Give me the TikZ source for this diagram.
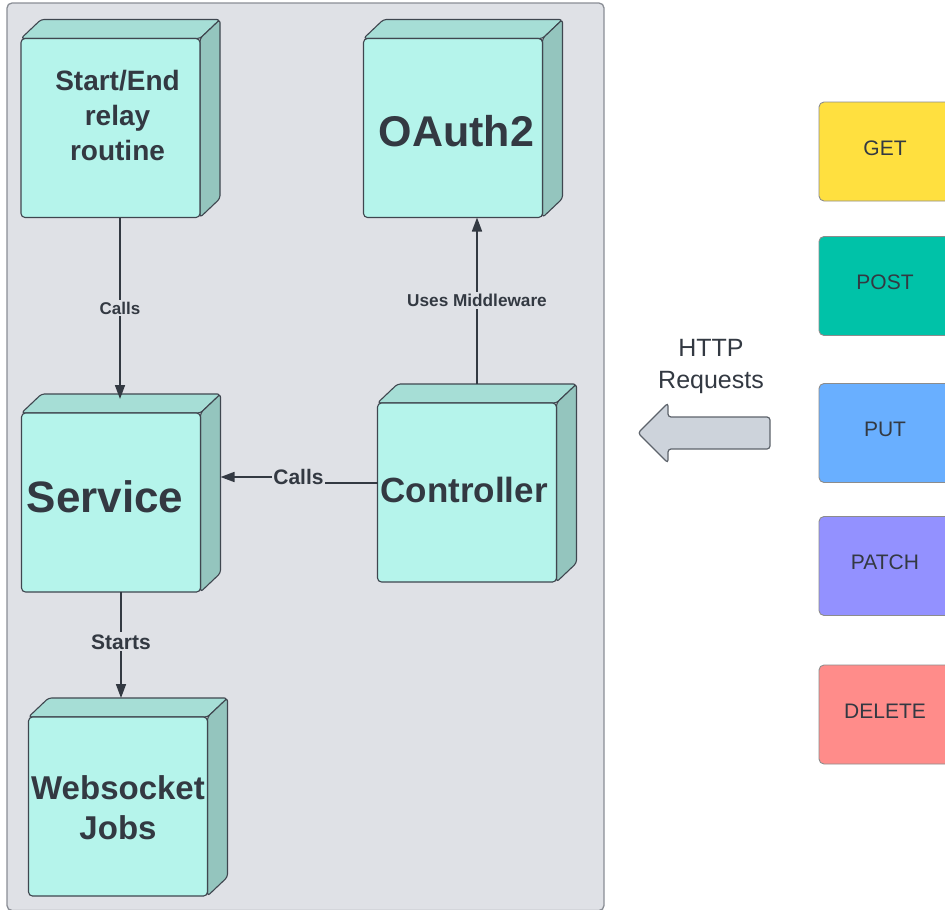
\documentclass[tikz,border=0pt]{standalone}
\usepackage{fontspec}
\setmainfont{Liberation Sans}
\usetikzlibrary{arrows.meta,calc}

\definecolor{panelfill}{HTML}{DFE1E6}
\definecolor{paneledge}{HTML}{8A8E95}
\definecolor{cubefront}{HTML}{B5F4EB}
\definecolor{cubetop}{HTML}{A6DED6}
\definecolor{cubeside}{HTML}{94C5BE}
\definecolor{cubeedge}{HTML}{3F464F}
\definecolor{ink}{HTML}{333942}
\definecolor{arrowfill}{HTML}{CDD3DB}
\definecolor{arrowedge}{HTML}{5D636B}
\definecolor{getfill}{HTML}{FFE03F}
\definecolor{postfill}{HTML}{00C2A8}
\definecolor{putfill}{HTML}{69AFFF}
\definecolor{patchfill}{HTML}{9391FF}
\definecolor{deletefill}{HTML}{FF8C8A}

\pgfdeclarelayer{panel}
\pgfdeclarelayer{faces}
\pgfsetlayers{panel,faces,main}

\tikzset{
  cube/.style={rectangle, rounded corners=4pt, draw=cubeedge, fill=cubefront,
    line width=1.1pt, minimum width=179pt, minimum height=179pt,
    outer sep=0pt, inner sep=0pt},
  cubetext/.style={text=ink, align=center, inner sep=0pt},
  cubeface/.style={draw=cubeedge, line width=1.1pt, rounded corners=3pt, line join=round},
  wire/.style={draw=ink, line width=1.7pt},
  flow/.style={wire, -{Triangle[length=14pt,width=10pt]}},
  tag/.style={fill=panelfill, text=ink, inner sep=2pt},
  method/.style={rectangle, rounded corners=5pt, draw=black!45, line width=0.9pt,
    minimum width=132pt, minimum height=99pt, text=ink, text depth=7pt,
    font=\fontsize{21}{25}\selectfont},
}

% top and right faces of a 3D box drawn behind its front face
\newcommand\boxfaces[1]{%
  \begin{pgfonlayer}{faces}
    \draw[cubeface, fill=cubetop] (#1.north west) -- ++(20,-19)
      -- ($(#1.north east)+(20,-19)$) -- (#1.north east) -- cycle;
    \draw[cubeface, fill=cubeside] (#1.north east) -- ++(20,-19)
      -- ($(#1.south east)+(20,-19)$) -- (#1.south east) -- cycle;
  \end{pgfonlayer}}

\begin{document}
\begin{tikzpicture}[x=1pt,y=-1pt]
\useasboundingbox (0,0) rectangle (945,910);

% system panel
\begin{pgfonlayer}{panel}
  \draw[fill=panelfill, draw=paneledge, line width=1.3pt, rounded corners=5pt]
    (7,3) rectangle (604,910.5);
\end{pgfonlayer}

% components
\node[cube] (start) at (110.5,128) {};
\boxfaces{start}
\node[cubetext, font=\bfseries\fontsize{28}{35}\selectfont] (start-text)
  at (117.5,115) {Start/End\\relay\\routine};

\node[cube] (oauth) at (453,128) {};
\boxfaces{oauth}
\node[cubetext, font=\bfseries\fontsize{43}{50}\selectfont] (oauth-text)
  at (456.5,131) {OAuth2};

\node[cube] (service) at (111,502.5) {};
\boxfaces{service}
\node[cubetext, font=\bfseries\fontsize{44}{50}\selectfont] (service-text)
  at (105,497) {Service};

\node[cube] (controller) at (467,492.5) {};
\boxfaces{controller}
\node[cubetext, font=\bfseries\fontsize{35}{42}\selectfont] (controller-text)
  at (464,490) {Controller};

\node[cube] (websocket) at (118,806.5) {};
\boxfaces{websocket}
\node[cubetext, font=\bfseries\fontsize{33}{40}\selectfont] (websocket-text)
  at (118,808) {Websocket\\Jobs};

% connectors
\coordinate (s1) at ([xshift=9.5pt]start.south);
\coordinate (s2) at ([yshift=14pt]service.north);
\draw[flow] (s1) -- (s1 |- s2)
  node[midway, tag, font=\bfseries\fontsize{17}{20}\selectfont] (calls-v) {Calls};

\coordinate (c1) at ([xshift=10pt,yshift=19pt]controller.north);
\draw[flow] (c1) -- (c1 |- oauth.south)
  node[midway, tag, font=\bfseries\fontsize{17.2}{20}\selectfont] (uses) {Uses Middleware};

\node[tag, inner sep=1pt, font=\bfseries\fontsize{21}{25}\selectfont] (calls-h)
  at (298.5,477) {Calls};
\coordinate (c2) at ([yshift=9.5pt]controller.west);
\draw[wire] (c2) -- (c2 -| calls-h.east);
\coordinate (svside) at ([xshift=20pt]service.east);
\draw[flow] (calls-h.west) -- (calls-h.west -| svside);

\coordinate (w1) at ([xshift=10pt]service.south);
\coordinate (w2) at ([yshift=19pt]websocket.north);
\draw[flow] (w1) -- (w1 |- w2)
  node[pos=0.47, tag, font=\bfseries\fontsize{21}{25}\selectfont] (starts) {Starts};

% incoming requests
\draw[fill=arrowfill, draw=arrowedge, line width=1.2pt, rounded corners=3pt]
  (770,417) -- (668,417) -- (668,403) -- (638,433) -- (668,463)
  -- (668,449) -- (770,449) -- cycle;
\node[text=ink, align=center, font=\fontsize{25}{32}\selectfont] (http)
  at (711,366.5) {HTTP\\Requests};

% HTTP methods
\node[method, fill=getfill] (get) at (885,151.5) {GET};
\node[method, fill=postfill] (post) at (885,286) {POST};
\node[method, fill=putfill] (put) at (885,433) {PUT};
\node[method, fill=patchfill] (patch) at (885,566) {PATCH};
\node[method, fill=deletefill] (delete) at (885,714.5) {DELETE};
\end{tikzpicture}
\end{document}
